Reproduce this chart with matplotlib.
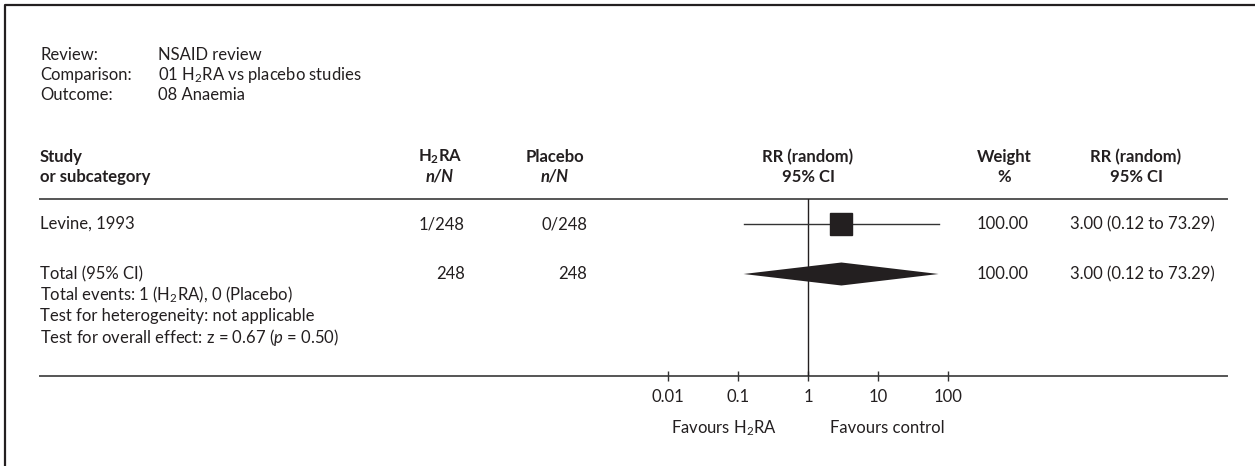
import matplotlib; matplotlib.use("Agg")
import matplotlib.pyplot as plt
from matplotlib.ticker import NullLocator

plt.rcParams['font.family'] = ['Lato', 'DejaVu Sans']
plt.rcParams['mathtext.fontset'] = 'custom'
plt.rcParams['mathtext.rm'] = 'Lato'
plt.rcParams['mathtext.it'] = 'Lato:italic'
plt.rcParams['mathtext.bf'] = 'Lato:bold'

#Data
review_labels = ['Review:', 'Comparison:', 'Outcome:']
review_values = ['NSAID review', '01 H$_2$RA vs placebo studies', '08 Anaemia']

studies = ['Levine, 1993']
h2ra_events = [1]
h2ra_total = [248]
placebo_events = [0]
placebo_total = [248]
rr = [3.00]
ci_low = [0.12]
ci_high = [73.29]
weight = [100.00]

pooled_rr = 3.00
pooled_low = 0.12
pooled_high = 73.29
pooled_weight = 100.00

footer_lines = ['Total events: 1 (H$_2$RA), 0 (Placebo)',
                'Test for heterogeneity: not applicable',
                'Test for overall effect: z = 0.67 ($\\mathit{p}$ = 0.50)']

tick_values = [0.01, 0.1, 1, 10, 100]
tick_labels = ['0.01', '0.1', '1', '10', '100']

#Styles
txt = '#231f20'
fs = 12

W, H = 1255, 466
fig = plt.figure(figsize=(W/100, H/100), dpi=100)

#Overlay axes in pixel coordinates for the table
ax = fig.add_axes([0, 0, 1, 1])
ax.set_xlim(0, W)
ax.set_ylim(H, 0)
ax.axis('off')

def put(x, y, s, ha='left', **kw):
    ax.text(x, y, s, ha=ha, va='center', fontsize=fs, color=txt, **kw)

#Frame (top and left edges only)
ax.plot([5, 5, W], [H, 5, 5], color=txt, lw=1.6, solid_capstyle='butt')

#Review info
for i, (lab, val) in enumerate(zip(review_labels, review_values)):
    put(40, 55 + 20*i, lab)
    put(158, 55 + 20*i, val)

#Header
hy1, hy2 = 157, 177
put(40, hy1, 'Study', weight='bold')
put(40, hy2, 'or subcategory', weight='bold')
put(440, hy1, 'H$_\\mathbf{2}$RA', ha='center', weight='bold')
put(440, hy2, 'n/N', ha='center', weight='bold', style='italic')
put(555, hy1, 'Placebo', ha='center', weight='bold')
put(555, hy2, 'n/N', ha='center', weight='bold', style='italic')
put(808, hy1, 'RR (random)', ha='center', weight='bold')
put(808, hy2, '95% CI', ha='center', weight='bold')
put(1004, hy1, 'Weight', ha='center', weight='bold')
put(1004, hy2, '%', ha='center', weight='bold')
put(1136, hy1, 'RR (random)', ha='center', weight='bold')
put(1136, hy2, '95% CI', ha='center', weight='bold')

ax.plot([40, 1227], [199, 199], color='#555555', lw=1.4)
ax.plot([40, 1227], [376, 376], color='#555555', lw=1.4)

#Study rows
row_y = [224]
for i, name in enumerate(studies):
    y = row_y[i]
    put(40, y, name)
    put(465, y, f'{h2ra_events[i]}/{h2ra_total[i]}', ha='right')
    put(587, y, f'{placebo_events[i]}/{placebo_total[i]}', ha='right')
    put(1003, y, f'{weight[i]:.2f}', ha='center')
    put(1070, y, f'{rr[i]:.2f} ({ci_low[i]:.2f} to {ci_high[i]:.2f})')

#Total row
ty = 274
put(40, ty, 'Total (95% CI)')
put(465, ty, f'{sum(h2ra_total)}', ha='right')
put(587, ty, f'{sum(placebo_total)}', ha='right')
put(1003, ty, f'{pooled_weight:.2f}', ha='center')
put(1070, ty, f'{pooled_rr:.2f} ({pooled_low:.2f} to {pooled_high:.2f})')
for i, s in enumerate(footer_lines):
    put(40, ty + 21 + 21*i, s)

#Forest plot axes (log scale), y in pixel units
fx0, fx1 = 598, 1018
ax_f = fig.add_axes([fx0/W, (H - 376)/H, (fx1 - fx0)/W, (376 - 199)/H])
ax_f.set_xscale('log')
ax_f.set_xlim(1e-3, 1e3)
ax_f.set_ylim(376, 199)
ax_f.patch.set_visible(False)
for sp in ax_f.spines.values():
    sp.set_visible(False)
ax_f.set_yticks([])
ax_f.set_xticks(tick_values)
ax_f.set_xticklabels(tick_labels)
ax_f.xaxis.set_minor_locator(NullLocator())
ax_f.tick_params(axis='x', direction='inout', length=7, width=1, color='#333333',
                 pad=6, labelsize=fs, labelcolor=txt)

ax_f.axvline(1, color=txt, lw=1)

for i in range(len(studies)):
    ax_f.plot([ci_low[i], ci_high[i]], [row_y[i], row_y[i]], color='#333333', lw=1)
    ax_f.plot([rr[i]], [row_y[i]], marker='s', markersize=16, color=txt)

ax_f.fill([pooled_low, pooled_rr, pooled_high, pooled_rr],
          [ty, ty - 11.5, ty, ty + 11.5], color=txt, lw=0)

#Favours labels
put(777, 428, 'Favours H$_2$RA', ha='right')
put(830, 428, 'Favours control', ha='left')

fig.savefig('out.png', dpi=100)
